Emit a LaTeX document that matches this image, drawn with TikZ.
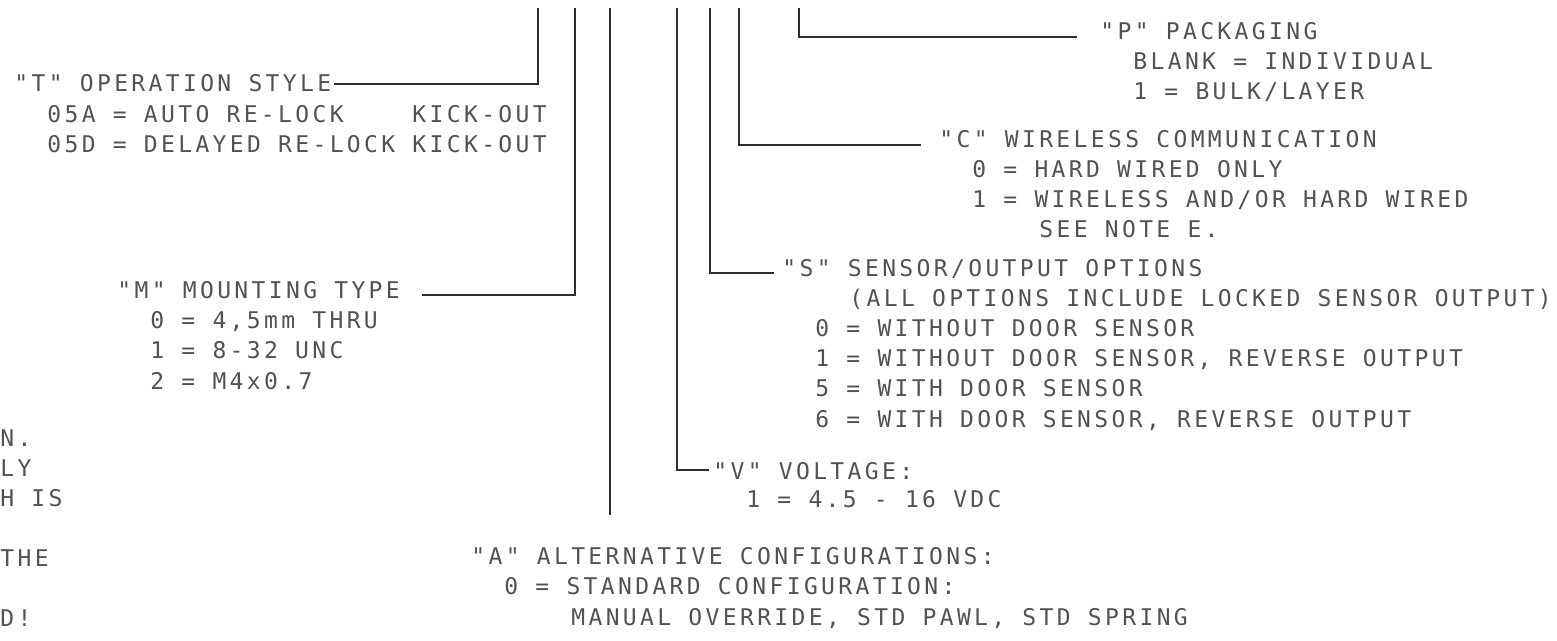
\documentclass[tikz,border=0pt]{standalone}
\usepackage{fontspec}
\newfontfamily\cadfont[LetterSpace=14.6]{DejaVu Sans Mono}
\usepackage{tikz}

\begin{document}
\begin{tikzpicture}[x=0.5pt, y=-0.5pt,
  cad/.style={anchor=base west, inner sep=0pt, text=black!68,
    font=\cadfont\fontsize{11.5}{13}\selectfont},
  lead/.style={draw=black!82, line width=1pt}]
\useasboundingbox (0,0) rectangle (1557,641);
% Leader tops under the part number
\foreach \n/\x in {T/538, M/575, A/610, V/677, S/710, C/739, P/799}
  \coordinate (top\n) at (\x,8);
\coordinate (endA) at (610,515);

% "T" operation style
\node[cad] (Thead) at (14,92) {"T" OPERATION STYLE};
\node[cad] (T05A) at (47,122.5) {05A = AUTO RE-LOCK~~~~KICK-OUT};
\node[cad] (T05D) at (47,152.5) {05D = DELAYED RE-LOCK KICK-OUT};
\draw[lead] (topT) |- ([xshift=1pt]Thead.east);

% "M" mounting type
\node[cad] (Mhead) at (117,299) {"M" MOUNTING TYPE};
\foreach \y/\lbl [count=\i from 0] in {329/{0 = 4,5mm THRU}, 359/{1 = 8-32 UNC}, 389/{2 = M4x0.7}}
  \node[cad] (M\i) at (150,\y) {\lbl};
\draw[lead] (topM) |- ([xshift=11pt, yshift=-2pt]Mhead.east);

% "A" alternative configurations
\draw[lead] (topA) -- (endA);
\node[cad] (Ahead) at (471,564) {"A" ALTERNATIVE CONFIGURATIONS:};
\node[cad] (A0) at (504,594.5) {0 = STANDARD CONFIGURATION:};
\node[cad] (A1) at (571,625) {MANUAL OVERRIDE, STD PAWL, STD SPRING};

% "V" voltage
\node[cad] (Vhead) at (713,479) {"V" VOLTAGE:};
\node[cad] (V1) at (746,507) {1 = 4.5 - 16 VDC};
\draw[lead] (topV) |- ([xshift=-2pt, yshift=0.3pt]Vhead.west);

% "S" sensor/output options
\node[cad] (Shead) at (782,277) {"S" SENSOR/OUTPUT OPTIONS};
\node[cad] (Snote) at (849,307) {(ALL OPTIONS INCLUDE LOCKED SENSOR OUTPUT)};
\foreach \y/\lbl [count=\i] in {337/{0 = WITHOUT DOOR SENSOR},
    367/{1 = WITHOUT DOOR SENSOR, REVERSE OUTPUT},
    397/{5 = WITH DOOR SENSOR},
    427/{6 = WITH DOOR SENSOR, REVERSE OUTPUT}}
  \node[cad] (S\i) at (815,\y) {\lbl};
\draw[lead] (topS) |- ([xshift=-4pt, yshift=-1.8pt]Shead.west);

% "C" wireless communication
\node[cad] (Chead) at (939,147.5) {"C" WIRELESS COMMUNICATION};
\node[cad] (C0) at (972,177.5) {0 = HARD WIRED ONLY};
\node[cad] (C1) at (972,207.5) {1 = WIRELESS AND/OR HARD WIRED};
\node[cad] (C2) at (1039,237.5) {SEE NOTE E.};
\draw[lead] (topC) |- ([xshift=-9pt, yshift=-2.7pt]Chead.west);

% "P" packaging
\node[cad] (Phead) at (1100,40) {"P" PACKAGING};
\node[cad] (P1) at (1133,70) {BLANK = INDIVIDUAL};
\node[cad] (P2) at (1133,100) {1 = BULK/LAYER};
\draw[lead] (topP) |- ([xshift=-11.5pt, yshift=-2.5pt]Phead.west);

% cut-off notes at the left edge
\foreach \y/\lbl [count=\i] in {446/N., 476/LY, 506/H IS, 566/THE, 626/D!}
  \node[cad] (note\i) at (0,\y) {\lbl};
\end{tikzpicture}
\end{document}
